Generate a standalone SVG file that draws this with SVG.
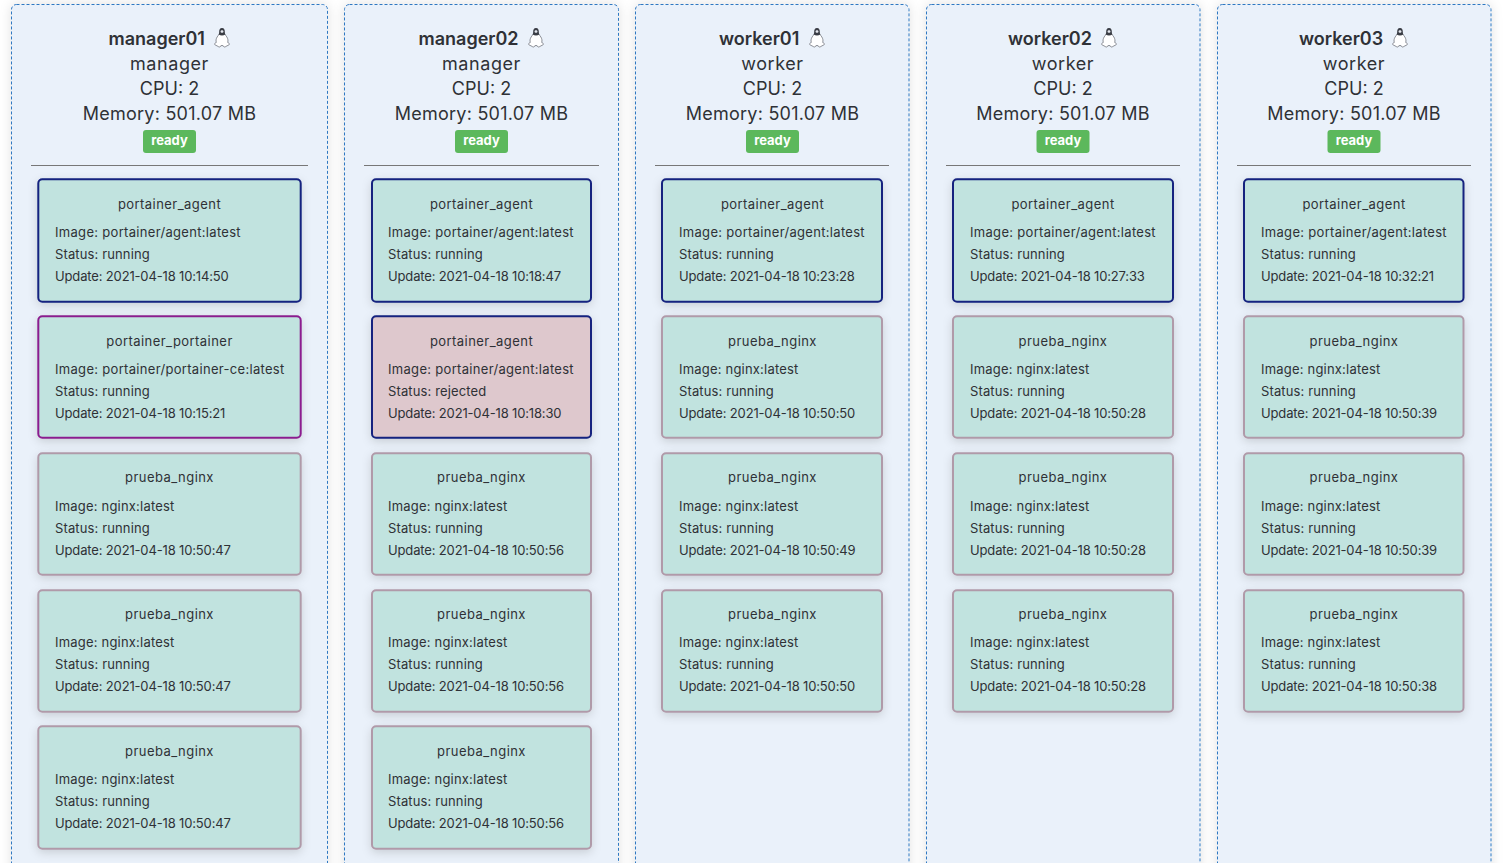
<svg xmlns="http://www.w3.org/2000/svg" width="1511" height="863" viewBox="0 0 1511 863">
<style>
text{font-family:"Inter","Liberation Sans",sans-serif;fill:#2f3136}
.h{font-size:18px;text-anchor:middle}
.r{letter-spacing:.57px}
.m{letter-spacing:.24px}
.n{font-size:18px;font-weight:600}
.b{font-size:13px;font-weight:700;text-anchor:middle;fill:#fff}
.t{font-size:13px;text-anchor:middle;letter-spacing:.45px}
.l{font-size:13px}
.i{letter-spacing:.31px}
.g{letter-spacing:.2px}
.s{letter-spacing:.13px}
.u{letter-spacing:-.15px}
.panel{fill:#eaf1fa;stroke:#2f78c2;stroke-width:1;stroke-dasharray:3 2;filter:url(#ps)}
.card{fill:#c1e3df;stroke:#b09aa9;stroke-width:2;filter:url(#cs)}
.blue{stroke:#14237f}
.purple{stroke:#8b1f8f}
.rej{fill:#dec8cd}
.badge{fill:#5cb85c}
.hr{stroke:#777;stroke-width:1}
</style>
<defs>
<filter id="ps" x="-10%" y="-5%" width="120%" height="110%"><feDropShadow dx="0" dy="0" stdDeviation="6" flood-color="#000" flood-opacity="0.12"/></filter>
<filter id="cs" x="-10%" y="-15%" width="120%" height="135%"><feDropShadow dx="0" dy="3" stdDeviation="5" flood-color="#000" flood-opacity="0.14"/></filter>
<symbol id="tux" viewBox="0 0 18 22" overflow="visible">
<path d="M6.200 7C5.600 8.300 4.800 9 3.900 10.400 2.700 12.400 2.300 14.400 3 16.200 1.800 16.700 1 17.300 1.200 18.200 1.500 19.300 3.500 19.400 5 20.600 6.200 21.600 7.600 20.900 7.900 19.600H10.100C10.400 20.900 11.800 21.600 13 20.600 14.500 19.400 16.500 19.300 16.800 18.200 17 17.300 16.200 16.700 15 16.200 15.700 14.400 15.300 12.400 14.100 10.400 13.200 9 12.400 8.300 11.800 7" fill="#fff" stroke="#6a6d75" stroke-width="0.8"/>
<path d="M9 1C6.600 1 6 3 6 5.200 6 6.400 5.800 7 5.500 7.800 6.500 8.600 7.700 9 9 9 10.300 9 11.500 8.600 12.500 7.800 12.200 7 12 6.400 12 5.200 12 3 11.400 1 9 1Z" fill="#3a3d45"/>
<path d="M7.400 4.600C7.500 3.700 8.200 3.200 9 3.200 9.800 3.200 10.500 3.700 10.600 4.600 10.600 5.500 9.800 5.900 9 5.900 8.200 5.900 7.400 5.500 7.400 4.600Z" fill="#e4e7ee"/>
</symbol>
</defs>
<rect width="1511" height="863" fill="#fff"/>

<g id="manager01">
<rect class="panel" x="11.5" y="4.5" width="316" height="880" rx="5"/>
<text class="n" x="108.500" y="45">manager01</text><use href="#tux" x="213.500" y="27" width="17" height="21"/>
<text class="h r" x="169.500" y="70">manager</text><text class="h" x="169.500" y="95">CPU: 2</text><text class="h m" x="169.500" y="120">Memory: 501.07 MB</text>
<rect class="badge" x="143" y="130" width="53" height="23" rx="3"/><text class="b" x="169.500" y="145">ready</text>
<line class="hr" x1="31" y1="165.500" x2="308" y2="165.500"/>
</g>
<g id="manager01-task1"><rect class="card blue" x="38.300" y="179.300" width="262.400" height="122.400" rx="4"/><text class="t" x="169.500" y="209">portainer_agent</text><text class="l i" x="55" y="237">Image: portainer/agent:latest</text><text class="l s" x="55" y="259">Status: running</text><text class="l u" x="55" y="281">Update: 2021-04-18 10:14:50</text></g>
<g id="manager01-task2"><rect class="card purple" x="38.300" y="316.300" width="262.400" height="121.400" rx="4"/><text class="t" x="169.500" y="346">portainer_portainer</text><text class="l i" x="55" y="374">Image: portainer/portainer-ce:latest</text><text class="l s" x="55" y="396">Status: running</text><text class="l u" x="55" y="418">Update: 2021-04-18 10:15:21</text></g>
<g id="manager01-task3"><rect class="card" x="38.300" y="453.300" width="262.400" height="121.400" rx="4"/><text class="t" x="169.500" y="482">prueba_nginx</text><text class="l g" x="55" y="511">Image: nginx:latest</text><text class="l s" x="55" y="533">Status: running</text><text class="l u" x="55" y="555">Update: 2021-04-18 10:50:47</text></g>
<g id="manager01-task4"><rect class="card" x="38.300" y="590.300" width="262.400" height="121.400" rx="4"/><text class="t" x="169.500" y="619">prueba_nginx</text><text class="l g" x="55" y="647">Image: nginx:latest</text><text class="l s" x="55" y="669">Status: running</text><text class="l u" x="55" y="691">Update: 2021-04-18 10:50:47</text></g>
<g id="manager01-task5"><rect class="card" x="38.300" y="726.300" width="262.400" height="122.400" rx="4"/><text class="t" x="169.500" y="756">prueba_nginx</text><text class="l g" x="55" y="784">Image: nginx:latest</text><text class="l s" x="55" y="806">Status: running</text><text class="l u" x="55" y="828">Update: 2021-04-18 10:50:47</text></g>

<g id="manager02">
<rect class="panel" x="344.500" y="4.5" width="274" height="880" rx="5"/>
<text class="n" x="418.500" y="45">manager02</text><use href="#tux" x="527.500" y="27" width="17" height="21"/>
<text class="h r" x="481.500" y="70">manager</text><text class="h" x="481.500" y="95">CPU: 2</text><text class="h m" x="481.500" y="120">Memory: 501.07 MB</text>
<rect class="badge" x="455" y="130" width="53" height="23" rx="3"/><text class="b" x="481.500" y="145">ready</text>
<line class="hr" x1="364" y1="165.500" x2="599" y2="165.500"/>
</g>
<g id="manager02-task1"><rect class="card blue" x="372" y="179.300" width="219" height="122.400" rx="4"/><text class="t" x="481.500" y="209">portainer_agent</text><text class="l i" x="388" y="237">Image: portainer/agent:latest</text><text class="l s" x="388" y="259">Status: running</text><text class="l u" x="388" y="281">Update: 2021-04-18 10:18:47</text></g>
<g id="manager02-task2"><rect class="card blue rej" x="372" y="316.300" width="219" height="121.400" rx="4"/><text class="t" x="481.500" y="346">portainer_agent</text><text class="l i" x="388" y="374">Image: portainer/agent:latest</text><text class="l s" x="388" y="396">Status: rejected</text><text class="l u" x="388" y="418">Update: 2021-04-18 10:18:30</text></g>
<g id="manager02-task3"><rect class="card" x="372" y="453.300" width="219" height="121.400" rx="4"/><text class="t" x="481.500" y="482">prueba_nginx</text><text class="l g" x="388" y="511">Image: nginx:latest</text><text class="l s" x="388" y="533">Status: running</text><text class="l u" x="388" y="555">Update: 2021-04-18 10:50:56</text></g>
<g id="manager02-task4"><rect class="card" x="372" y="590.300" width="219" height="121.400" rx="4"/><text class="t" x="481.500" y="619">prueba_nginx</text><text class="l g" x="388" y="647">Image: nginx:latest</text><text class="l s" x="388" y="669">Status: running</text><text class="l u" x="388" y="691">Update: 2021-04-18 10:50:56</text></g>
<g id="manager02-task5"><rect class="card" x="372" y="726.300" width="219" height="122.400" rx="4"/><text class="t" x="481.500" y="756">prueba_nginx</text><text class="l g" x="388" y="784">Image: nginx:latest</text><text class="l s" x="388" y="806">Status: running</text><text class="l u" x="388" y="828">Update: 2021-04-18 10:50:56</text></g>

<g id="worker01">
<rect class="panel" x="635.500" y="4.5" width="273.500" height="880" rx="5"/>
<text class="n" x="719" y="45">worker01</text><use href="#tux" x="808.500" y="27" width="17" height="21"/>
<text class="h r" x="772.500" y="70">worker</text><text class="h" x="772.500" y="95">CPU: 2</text><text class="h m" x="772.500" y="120">Memory: 501.07 MB</text>
<rect class="badge" x="746" y="130" width="53" height="23" rx="3"/><text class="b" x="772.500" y="145">ready</text>
<line class="hr" x1="655" y1="165.500" x2="889" y2="165.500"/>
</g>
<g id="worker01-task1"><rect class="card blue" x="662" y="179.300" width="220" height="122.400" rx="4"/><text class="t" x="772.500" y="209">portainer_agent</text><text class="l i" x="679" y="237">Image: portainer/agent:latest</text><text class="l s" x="679" y="259">Status: running</text><text class="l u" x="679" y="281">Update: 2021-04-18 10:23:28</text></g>
<g id="worker01-task2"><rect class="card" x="662" y="316.300" width="220" height="121.400" rx="4"/><text class="t" x="772.500" y="346">prueba_nginx</text><text class="l g" x="679" y="374">Image: nginx:latest</text><text class="l s" x="679" y="396">Status: running</text><text class="l u" x="679" y="418">Update: 2021-04-18 10:50:50</text></g>
<g id="worker01-task3"><rect class="card" x="662" y="453.300" width="220" height="121.400" rx="4"/><text class="t" x="772.500" y="482">prueba_nginx</text><text class="l g" x="679" y="511">Image: nginx:latest</text><text class="l s" x="679" y="533">Status: running</text><text class="l u" x="679" y="555">Update: 2021-04-18 10:50:49</text></g>
<g id="worker01-task4"><rect class="card" x="662" y="590.300" width="220" height="121.400" rx="4"/><text class="t" x="772.500" y="619">prueba_nginx</text><text class="l g" x="679" y="647">Image: nginx:latest</text><text class="l s" x="679" y="669">Status: running</text><text class="l u" x="679" y="691">Update: 2021-04-18 10:50:50</text></g>

<g id="worker02">
<rect class="panel" x="926.500" y="4.5" width="273.500" height="880" rx="5"/>
<text class="n" x="1008" y="45">worker02</text><use href="#tux" x="1100.500" y="27" width="17" height="21"/>
<text class="h r" x="1063" y="70">worker</text><text class="h" x="1063" y="95">CPU: 2</text><text class="h m" x="1063" y="120">Memory: 501.07 MB</text>
<rect class="badge" x="1036.500" y="130" width="53" height="23" rx="3"/><text class="b" x="1063" y="145">ready</text>
<line class="hr" x1="946" y1="165.500" x2="1180" y2="165.500"/>
</g>
<g id="worker02-task1"><rect class="card blue" x="953" y="179.300" width="220" height="122.400" rx="4"/><text class="t" x="1063" y="209">portainer_agent</text><text class="l i" x="970" y="237">Image: portainer/agent:latest</text><text class="l s" x="970" y="259">Status: running</text><text class="l u" x="970" y="281">Update: 2021-04-18 10:27:33</text></g>
<g id="worker02-task2"><rect class="card" x="953" y="316.300" width="220" height="121.400" rx="4"/><text class="t" x="1063" y="346">prueba_nginx</text><text class="l g" x="970" y="374">Image: nginx:latest</text><text class="l s" x="970" y="396">Status: running</text><text class="l u" x="970" y="418">Update: 2021-04-18 10:50:28</text></g>
<g id="worker02-task3"><rect class="card" x="953" y="453.300" width="220" height="121.400" rx="4"/><text class="t" x="1063" y="482">prueba_nginx</text><text class="l g" x="970" y="511">Image: nginx:latest</text><text class="l s" x="970" y="533">Status: running</text><text class="l u" x="970" y="555">Update: 2021-04-18 10:50:28</text></g>
<g id="worker02-task4"><rect class="card" x="953" y="590.300" width="220" height="121.400" rx="4"/><text class="t" x="1063" y="619">prueba_nginx</text><text class="l g" x="970" y="647">Image: nginx:latest</text><text class="l s" x="970" y="669">Status: running</text><text class="l u" x="970" y="691">Update: 2021-04-18 10:50:28</text></g>

<g id="worker03">
<rect class="panel" x="1217.500" y="4.5" width="273.500" height="880" rx="5"/>
<text class="n" x="1299" y="45">worker03</text><use href="#tux" x="1391.500" y="27" width="17" height="21"/>
<text class="h r" x="1354" y="70">worker</text><text class="h" x="1354" y="95">CPU: 2</text><text class="h m" x="1354" y="120">Memory: 501.07 MB</text>
<rect class="badge" x="1327.500" y="130" width="53" height="23" rx="3"/><text class="b" x="1354" y="145">ready</text>
<line class="hr" x1="1237" y1="165.500" x2="1471" y2="165.500"/>
</g>
<g id="worker03-task1"><rect class="card blue" x="1244" y="179.300" width="219.500" height="122.400" rx="4"/><text class="t" x="1354" y="209">portainer_agent</text><text class="l i" x="1261" y="237">Image: portainer/agent:latest</text><text class="l s" x="1261" y="259">Status: running</text><text class="l u" x="1261" y="281">Update: 2021-04-18 10:32:21</text></g>
<g id="worker03-task2"><rect class="card" x="1244" y="316.300" width="219.500" height="121.400" rx="4"/><text class="t" x="1354" y="346">prueba_nginx</text><text class="l g" x="1261" y="374">Image: nginx:latest</text><text class="l s" x="1261" y="396">Status: running</text><text class="l u" x="1261" y="418">Update: 2021-04-18 10:50:39</text></g>
<g id="worker03-task3"><rect class="card" x="1244" y="453.300" width="219.500" height="121.400" rx="4"/><text class="t" x="1354" y="482">prueba_nginx</text><text class="l g" x="1261" y="511">Image: nginx:latest</text><text class="l s" x="1261" y="533">Status: running</text><text class="l u" x="1261" y="555">Update: 2021-04-18 10:50:39</text></g>
<g id="worker03-task4"><rect class="card" x="1244" y="590.300" width="219.500" height="121.400" rx="4"/><text class="t" x="1354" y="619">prueba_nginx</text><text class="l g" x="1261" y="647">Image: nginx:latest</text><text class="l s" x="1261" y="669">Status: running</text><text class="l u" x="1261" y="691">Update: 2021-04-18 10:50:38</text></g>
</svg>
